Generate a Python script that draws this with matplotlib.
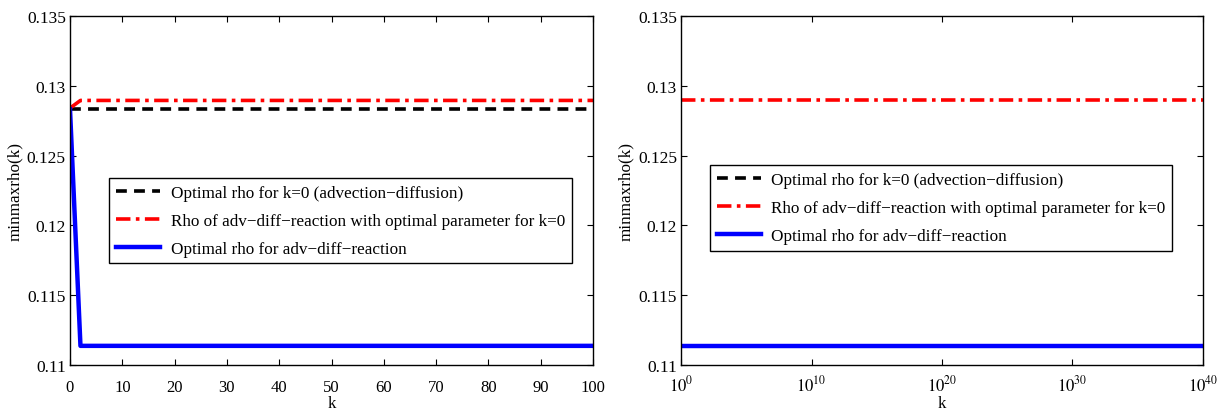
import matplotlib.pyplot as plt
import matplotlib.ticker as mticker

plt.rcParams['font.family'] = ['Liberation Serif', 'DejaVu Serif']
plt.rcParams['mathtext.fontset'] = 'stix'

# lewy wykres: k liniowo
k_lin = [0, 2, 100]
rho_opt_k0_lin = [0.12832, 0.12832, 0.12832]
rho_adr_k0par_lin = [0.12840, 0.12895, 0.12895]
rho_opt_adr_lin = [0.12832, 0.11137, 0.11137]

# prawy wykres: k logarytmicznie
k_log = [1e0, 1e40]
rho_opt_k0_log = [0.11137, 0.11137]
rho_adr_k0par_log = [0.12895, 0.12895]
rho_opt_adr_log = [0.11137, 0.11137]

labels = ["Optimal rho for k=0 (advection\u2212diffusion)",
          "Rho of adv\u2212diff\u2212reaction with optimal parameter for k=0",
          "Optimal rho for adv\u2212diff\u2212reaction"]

yticks = [0.11, 0.115, 0.12, 0.125, 0.13, 0.135]
ytick_labels = ["0.11", "0.115", "0.12", "0.125", "0.13", "0.135"]

fig = plt.figure(figsize=(12.28, 4.14), dpi=100)
ax1 = fig.add_axes([0.057, 0.116, 0.426, 0.843])
ax2 = fig.add_axes([0.5546, 0.116, 0.425, 0.843])

def draw(ax, k, a, b, c):
    ax.plot(k, a, color='black', ls=(0, (3, 2)), lw=2.6, label=labels[0])
    ax.plot(k, b, color='red', ls=(0, (4, 1.5, 1, 1.5)), lw=2.6, label=labels[1])
    ax.plot(k, c, color='blue', lw=3.2, label=labels[2])

draw(ax1, k_lin, rho_opt_k0_lin, rho_adr_k0par_lin, rho_opt_adr_lin)
draw(ax2, k_log, rho_opt_k0_log, rho_adr_k0par_log, rho_opt_adr_log)

ax1.set_xlim(0, 100)
ax1.set_xticks(range(0, 101, 10))
ax2.set_xscale('log')
ax2.set_xlim(1e0, 1e40)
ax2.xaxis.set_major_locator(mticker.FixedLocator([1e0, 1e10, 1e20, 1e30, 1e40]))
ax2.xaxis.set_minor_locator(mticker.NullLocator())
ax2.set_xticklabels([r"$10^{0}$", r"$10^{10}$", r"$10^{20}$", r"$10^{30}$", r"$10^{40}$"],
                    fontsize=12.5)

for ax, anchor, xpad, klpad in [(ax1, (0.075, 0.536), 10, 0), (ax2, (0.055, 0.573), 7, 0)]:
    ax.set_ylim(0.11, 0.135)
    ax.set_yticks(yticks)
    ax.set_yticklabels(ytick_labels)
    ax.set_ylabel("minmaxrho(k)", fontsize=12.3, labelpad=3)
    ax.tick_params(direction='in', top=True, right=True, length=4, width=0.8,
                   labelsize=12)
    ax.tick_params(axis='y', pad=3, labelsize=12.5)
    ax.tick_params(axis='x', pad=xpad)
    ax.set_xlabel("k", fontsize=12, labelpad=klpad)
    for s in ax.spines.values():
        s.set_linewidth(1.0)
    leg = ax.legend(loc='upper left', bbox_to_anchor=anchor, fontsize=12.3,
                    fancybox=False, edgecolor='black', framealpha=1,
                    handlelength=2.6, handletextpad=0.6, borderpad=0.4,
                    labelspacing=0.7, borderaxespad=0)
    leg.get_frame().set_linewidth(1.0)

plt.savefig("out.png", dpi=100)
plt.close()
